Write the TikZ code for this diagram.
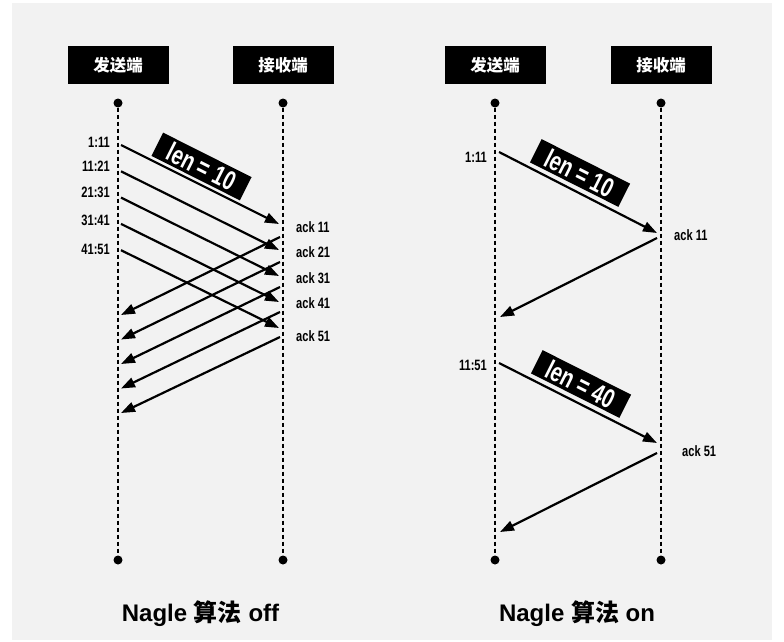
\documentclass[tikz,border=0pt]{standalone}
\usepackage{fontspec}
\setmainfont{Liberation Sans}
\setsansfont{Liberation Sans}
\newfontfamily\cjk{Noto Sans CJK SC}
\newfontfamily\narrowfont{Liberation Sans}[FakeStretch=0.74]
\usetikzlibrary{arrows.meta}
\definecolor{pagefill}{HTML}{F2F2F2}
\definecolor{inkline}{HTML}{000000}
\tikzset{
  headbox/.style = {rectangle, draw=inkline, fill=inkline, text=white,
                    minimum width=100pt, minimum height=37pt, inner sep=0pt,
                    font=\cjk\bfseries\fontsize{16.5}{16.5}\selectfont},
  enddot/.style  = {circle, fill=inkline, minimum size=9pt, inner sep=0pt},
  lifeline/.style= {line width=2pt, dash pattern=on 4pt off 3pt, draw=inkline},
  pkt/.style     = {-{Triangle[length=14pt, width=10pt]}, line width=2.2pt, draw=inkline},
  seqlbl/.style  = {font=\narrowfont\bfseries\fontsize{15}{15}\selectfont, inner sep=0pt},
  lenbox/.style  = {rectangle, fill=inkline, text=white, minimum width=99pt,
                    minimum height=26pt, inner sep=0pt, rotate=-26.7,
                    font=\narrowfont\bfseries\fontsize{27}{27}\selectfont},
  titlelbl/.style= {font=\bfseries\fontsize{24}{24}\selectfont, inner sep=0pt},
}

\begin{document}
\begin{tikzpicture}[x=1pt, y=-1pt]
    \useasboundingbox (0,0) rectangle (784,642);
    \fill[pagefill] (12,3) rectangle (772,640);
    % lifelines
    \foreach \n/\x in {sa/118, ra/283, sb/495, rb/661}{
        \node[enddot] (\n top) at (\x,103) {};
        \node[enddot] (\n bot) at (\x,560) {};
        \draw[lifeline] (\n top) -- (\n bot);
    }
    \node[headbox] (snda) at (118,65) {发送端};
    \node[headbox] (rcva) at (283,65) {接收端};
    \node[headbox] (sndb) at (495,65) {发送端};
    \node[headbox] (rcvb) at (661,65) {接收端};
    % Nagle off
    \foreach \i/\s/\sy/\a/\ay in {0/1:11/142/11/227, 1/11:21/166/21/252, 2/21:31/192/31/278,
                                  3/31:41/220/41/303, 4/41:51/249/51/336}{
        \coordinate (ds\i) at (121,145+26.3*\i);
        \coordinate (dr\i) at (279,224+26*\i);
        \coordinate (as\i) at (280,237+25*\i);
        \coordinate (ar\i) at (121,315+24.5*\i);
        \draw[pkt] (ds\i) -- (dr\i);
        \draw[pkt] (as\i) -- (ar\i);
        \node[seqlbl, anchor=east] (seq\i) at (110,\sy) {\s};
        \node[seqlbl, anchor=west] (ack\i) at (296,\ay) {ack \a};
    }
    \node[lenbox] (lena) at (201.5,166.5) {len = 10};
    % Nagle on
    \coordinate (bs0) at (499,152);
    \coordinate (br0) at (657,233);
    \coordinate (bk0) at (657,238);
    \coordinate (bl0) at (500,317);
    \coordinate (bs1) at (499,363);
    \coordinate (br1) at (657,443);
    \coordinate (bk1) at (657,453);
    \coordinate (bl1) at (500,532);
    \foreach \i in {0,1}{
        \draw[pkt] (bs\i) -- (br\i);
        \draw[pkt] (bk\i) -- (bl\i);
    }
    \node[seqlbl, anchor=east] (seqb0) at (487,157) {1:11};
    \node[seqlbl, anchor=west] (ackb0) at (674,235) {ack 11};
    \node[seqlbl, anchor=east] (seqb1) at (487,365) {11:51};
    \node[seqlbl, anchor=west] (ackb1) at (682,451) {ack 51};
    \node[lenbox] (lenb0) at (580,173) {len = 10};
    \node[lenbox] (lenb1) at (581,384) {len = 40};
    % titles
    \node[titlelbl] (offttl) at (200.5,614) {Nagle {\cjk\bfseries 算法} off};
    \node[titlelbl] (onttl) at (577,614) {Nagle {\cjk\bfseries 算法} on};
\end{tikzpicture}
\end{document}
